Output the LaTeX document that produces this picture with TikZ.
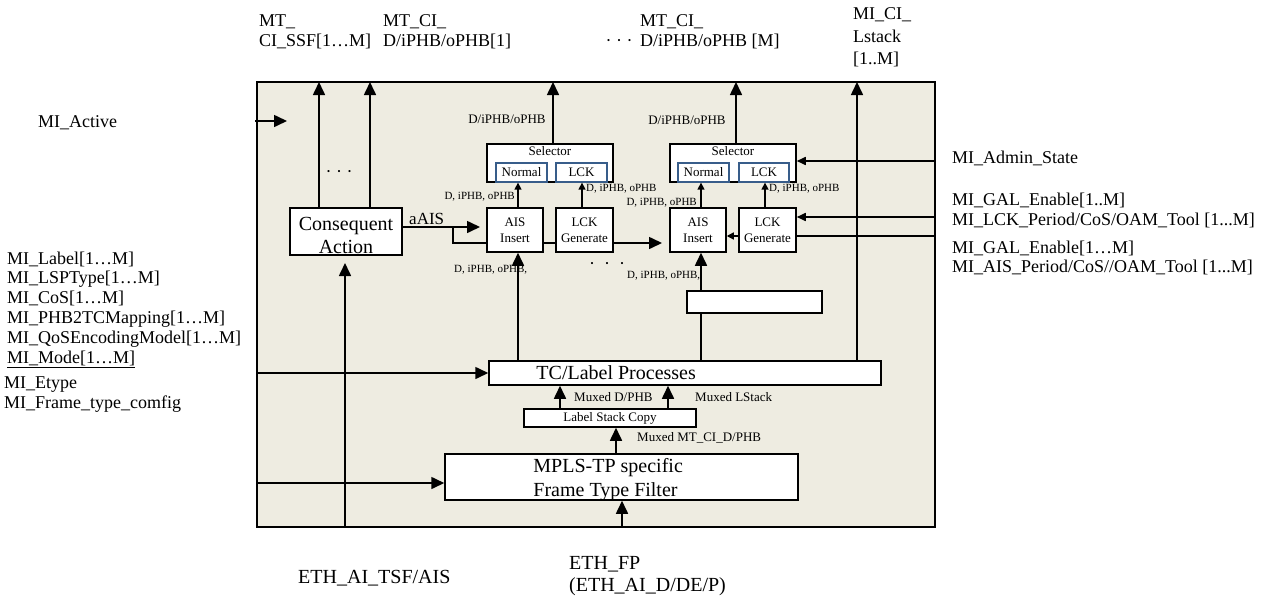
\documentclass[tikz,border=0pt]{standalone}
\usepackage{fontspec}
\setmainfont{Liberation Serif}
\usetikzlibrary{arrows.meta}
\definecolor{panel}{RGB}{238,236,225}
\definecolor{selblue}{RGB}{56,93,138}
\newcommand{\dgLg}{\fontsize{18}{20}\selectfont}
\newcommand{\dgB}{\fontsize{20}{23}\selectfont}
\newcommand{\dgMd}{\fontsize{13}{16}\selectfont}
\newcommand{\dgSm}{\fontsize{11}{13}\selectfont}
\newcommand{\dgAa}{\fontsize{17}{20}\selectfont}
\begin{document}
\begin{tikzpicture}[x=1pt,y=-1pt,
  box/.style={draw, fill=white, line width=1.5pt, inner sep=0pt, align=center},
  subbox/.style={draw=selblue, fill=white, line width=1.3pt, inner sep=0pt},
  txt/.style={inner sep=0pt, align=left},
  ln/.style={line width=1.6pt},
  arr/.style={ln, -{Triangle[length=13pt,width=12pt]}},
  arrm/.style={ln, -{Triangle[length=9pt,width=8pt]}},
  arrs/.style={line width=1.4pt, -{Triangle[length=7pt,width=7pt]}},
]
\useasboundingbox (0,0) rectangle (1266,605);
\fill[white] (0,0) rectangle (1266,605);

% frame
\node[draw, fill=panel, line width=1.3pt, inner sep=0pt, minimum width=678pt, minimum height=445pt] (frame) at (596,304.5) {};

% boxes
\node[box, minimum width=112pt, minimum height=47pt,
  label={[align=center, inner sep=0pt, font=\dgB, yshift=-4pt]center:Consequent\\Action}] (CA) at (346,231.5) {};
\node[box, minimum width=56pt, minimum height=44pt, font=\dgMd] (AIS1) at (515,230) {AIS\\Insert};
\node[box, minimum width=57pt, minimum height=44pt, font=\dgMd] (LCK1) at (584.5,230) {LCK\\Generate};
\node[box, minimum width=126pt, minimum height=38pt, label={[anchor=north, inner sep=0pt, yshift=-3pt, font=\dgMd]north:Selector}] (SEL1) at (550,163) {};
\node[subbox, minimum width=51pt, minimum height=19pt, font=\dgMd] (NOR1) at (521.5,172.5) {Normal};
\node[subbox, minimum width=51pt, minimum height=19pt, font=\dgMd] (LCKS1) at (581.5,172.5) {LCK};

\node[box, minimum width=56pt, minimum height=44pt, font=\dgMd] (AIS2) at (698,230) {AIS\\Insert};
\node[box, minimum width=57pt, minimum height=44pt, font=\dgMd] (LCK2) at (767.5,230) {LCK\\Generate};
\node[box, minimum width=126pt, minimum height=38pt, label={[anchor=north, inner sep=0pt, yshift=-3pt, font=\dgMd]north:Selector}] (SEL2) at (733,163) {};
\node[subbox, minimum width=51pt, minimum height=19pt, font=\dgMd] (NOR2) at (703.5,172.5) {Normal};
\node[subbox, minimum width=50pt, minimum height=19pt, font=\dgMd] (LCKS2) at (764,172.5) {LCK};

\node[box, minimum width=135pt, minimum height=22pt] (EMP) at (754.5,302) {};
\node[box, minimum width=392pt, minimum height=24pt, label={[anchor=west, inner sep=0pt, xshift=48pt, font=\dgB]west:TC/Label Processes}] (TC) at (685,373) {};
\node[box, minimum width=172pt, minimum height=18pt, font=\dgMd] (LSC) at (610,418) {Label Stack Copy};
\node[box, minimum width=353pt, minimum height=46pt, label={[anchor=west, inner sep=0pt, xshift=89pt, yshift=-3pt, align=left, font=\fontsize{20}{24}\selectfont]west:{MPLS-TP specific\\Frame Type Filter}}] (MPLS) at (621.5,477) {};

% coordinates
\coordinate (o1) at (319,82);
\coordinate (o2) at (370,82);
\coordinate (o3) at (553,82);
\coordinate (o4) at (736,82);
\coordinate (o5) at (857,82);
\coordinate (ma0) at (255,121);
\coordinate (ma1) at (287,121);
\coordinate (aa) at (480,227);
\coordinate (bj) at (453,227);
\coordinate (by) at (0,243);
\coordinate (bt) at (662,243);
\coordinate (x1) at (518,0);
\coordinate (x1b) at (582,0);
\coordinate (x2) at (701,0);
\coordinate (x2b) at (765,0);
\coordinate (yad) at (0,161);
\coordinate (ylk) at (0,217);
\coordinate (ylo) at (0,236);
\coordinate (ytc) at (0,373);
\coordinate (ymp) at (0,483);
\coordinate (xca) at (345,0);
\coordinate (cain) at (345,263);
\coordinate (xeth) at (622,0);
\coordinate (xm) at (616,0);
\coordinate (xd) at (560,0);
\coordinate (xl) at (668,0);

% outputs at top
\draw[arr] (o1 |- CA.north) -- (o1);
\draw[arr] (o2 |- CA.north) -- (o2);
\draw[arr] (o3 |- SEL1.north) -- (o3);
\draw[arr] (o4 |- SEL2.north) -- (o4);
\draw[arr] (o5 |- TC.north) -- (o5);

% MI_Active
\draw[arr] (ma0) -- (ma1);

% aAIS and bus
\draw[arr] (CA.east |- aa) -- (aa);
\draw[ln] (bj) |- (AIS1.west |- by);
\draw[ln] (AIS1.east |- by) -- (LCK1.west |- by);
\draw[arr] (LCK1.east |- by) -- (bt);

% into selectors
\draw[arrs] (AIS1.north -| x1) -- (NOR1.south -| x1);
\draw[arrs] (LCK1.north -| x1b) -- (LCKS1.south -| x1b);
\draw[arrs] (AIS2.north -| x2) -- (NOR2.south -| x2);
\draw[arrs] (LCK2.north -| x2b) -- (LCKS2.south -| x2b);

% from TC up
\draw[arr] (TC.north -| x1) -- (AIS1.south -| x1);
\draw[ln] (TC.north -| x2) -- (EMP.south -| x2);
\draw[arr] (EMP.north -| x2) -- (AIS2.south -| x2);

% right side
\draw[arrm] (frame.east |- yad) -- (SEL2.east |- yad);
\draw[arrm] (frame.east |- ylk) -- (LCK2.east |- ylk);
\draw[ln] (LCK2.east |- ylo) -- (frame.east |- ylo);
\draw[arrs] (LCK2.west |- ylo) -- (AIS2.east |- ylo);

% left side
\draw[arr] (frame.west |- ytc) -- (TC.west |- ytc);
\draw[arr] (frame.west |- ymp) -- (MPLS.west |- ymp);
\draw[arr] (frame.south -| xca) -- (cain);

% bottom chain
\draw[arr] (frame.south -| xeth) -- (MPLS.south -| xeth);
\draw[arr] (MPLS.north -| xm) -- (LSC.south -| xm);
\draw[arr] (LSC.north -| xd) -- (TC.south -| xd);
\draw[arr] (LSC.north -| xl) -- (TC.south -| xl);

% inner labels
\node[txt, font=\dgSm, anchor=east] (l1) at (515,197) {D, iPHB, oPHB};
\node[txt, font=\dgSm, anchor=west] (l2) at (586,189) {D, iPHB, oPHB};
\node[txt, font=\dgSm, anchor=east] (l3) at (697,203) {D, iPHB, oPHB};
\node[txt, font=\dgSm, anchor=west] (l4) at (769,189) {D, iPHB, oPHB};
\node[txt, font=\dgSm, anchor=west] (l5) at (454,270) {D, iPHB, oPHB,};
\node[txt, font=\dgSm, anchor=west] (l6) at (627,276) {D, iPHB, oPHB,};
\node[txt, font=\dgMd] (l7) at (507,119) {D/iPHB/oPHB};
\node[txt, font=\dgMd] (l8) at (687,120) {D/iPHB/oPHB};
\node[txt, font=\dgAa, anchor=west] (l9) at (409,219) {aAIS};
\node[txt, font=\dgMd, anchor=west] (l10) at (574,397) {Muxed D/PHB};
\node[txt, font=\dgMd, anchor=west] (l11) at (695,397) {Muxed LStack};
\node[txt, font=\dgMd, anchor=west] (l12) at (637,438) {Muxed MT\_CI\_D/PHB};
\node[txt, font=\dgLg] (d1) at (339,174) {· · ·};
\node[txt, font=\dgLg] (d2) at (607,266) {·\hspace{9pt}·\hspace{9pt}·};
\node[txt, font=\dgLg] (d3) at (619,43) {· · ·};

% top labels
\node[txt, font=\dgLg, anchor=west] (t1) at (259,31.5) {MT\_\\CI\_SSF[1…M]};
\node[txt, font=\dgLg, anchor=west] (t2) at (383,31.5) {MT\_CI\_\\D/iPHB/oPHB[1]};
\node[txt, font=\dgLg, anchor=west] (t3) at (640,31.5) {MT\_CI\_\\D/iPHB/oPHB [M]};
\node[txt, font=\fontsize{18}{22.5}\selectfont, anchor=west] (t4) at (853,37.5) {MI\_CI\_\\Lstack\\{[1..M]}};

% left labels
\node[txt, font=\dgLg, anchor=west] (lb3) at (38,123) {MI\_Active};
\node[txt, font=\fontsize{18}{19.8}\selectfont, anchor=west] (lb1) at (7,309.5) {MI\_Label[1…M]\\MI\_LSPType[1…M]\\MI\_CoS[1…M]\\MI\_PHB2TCMapping[1…M]\\MI\_QoSEncodingModel[1…M]\\\underline{MI\_Mode[1…M]}};
\node[txt, font=\dgLg, anchor=west] (lb2) at (4,395) {MI\_Etype\\MI\_Frame\_type\_comfig};

% right labels
\node[txt, font=\dgLg, anchor=west] (r1) at (952,158) {MI\_Admin\_State};
\node[txt, font=\fontsize{18}{19.5}\selectfont, anchor=west] (r2) at (952,210.5) {MI\_GAL\_Enable[1..M]\\MI\_LCK\_Period/CoS/OAM\_Tool [1...M]};
\node[txt, font=\fontsize{18}{19.5}\selectfont, anchor=west] (r3) at (952,258) {MI\_GAL\_Enable[1…M]\\MI\_AIS\_Period/CoS//OAM\_Tool [1...M]};

% bottom labels
\node[txt, font=\dgB, anchor=west] (b1) at (298,578) {ETH\_AI\_TSF/AIS};
\node[txt, font=\fontsize{20}{22}\selectfont, anchor=west] (b2) at (569,576) {ETH\_FP\\(ETH\_AI\_D/DE/P)};
\end{tikzpicture}
\end{document}
